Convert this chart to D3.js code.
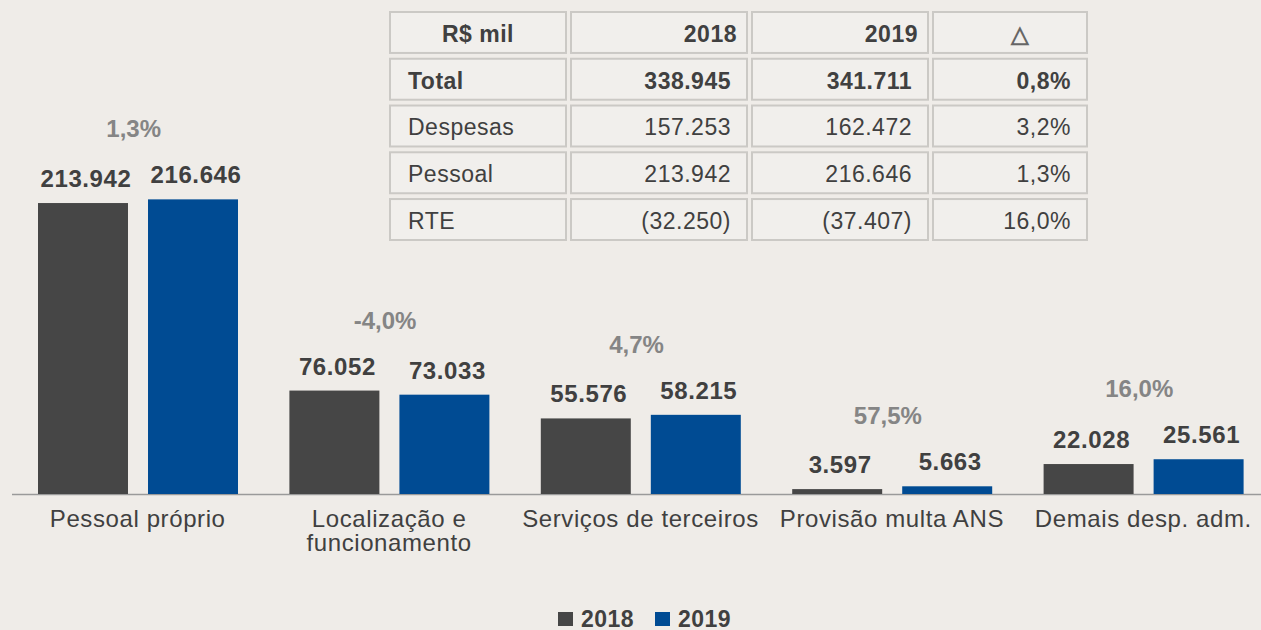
<!DOCTYPE html>
<html>
<head>
<meta charset="utf-8">
<script src="https://cdn.jsdelivr.net/npm/d3@7"></script>
<style>
  html, body { margin: 0; padding: 0; background: #efece8; }
  svg { display: block; font-family: "Liberation Sans", Arial, sans-serif; }
</style>
</head>
<body>
<svg id="chart" width="1261" height="630"></svg>
<script>
// data
var categories = ["Pessoal próprio", "Localização e\nfuncionamento", "Serviços de terceiros", "Provisão multa ANS", "Demais desp. adm."];
var years = ["2018", "2019"];
var values2018 = [213942, 76052, 55576, 3597, 22028];
var values2019 = [216646, 73033, 58215, 5663, 25561];
var changes = ["1,3%", "-4,0%", "4,7%", "57,5%", "16,0%"];
var tableHeader = ["R$ mil", "2018", "2019", "\u25B3"];
var tableRows = [
  ["Total", "338.945", "341.711", "0,8%"],
  ["Despesas", "157.253", "162.472", "3,2%"],
  ["Pessoal", "213.942", "216.646", "1,3%"],
  ["RTE", "(32.250)", "(37.407)", "16,0%"]
];

var colors = { "2018": "#464646", "2019": "#004b93" };
var textDark = "#404040";

var svg = d3.select("#chart");
var W = 1261, H = 630;
var baseline = 494;

var ptBR = d3.formatLocale({ decimal: ",", thousands: ".", grouping: [3], currency: ["R$", ""] });
var fmt = ptBR.format(",d");

var data = categories.map(function (c, i) {
  return { cat: c, change: changes[i], vals: [values2018[i], values2019[i]] };
});

var x0 = d3.scaleBand().domain(categories).range([12, 1269]).padding(0);
var x1 = d3.scaleBand().domain(years).range([26, 226]).paddingInner(0.182).paddingOuter(0);
var y = d3.scaleLinear().domain([0, 220000]).range([baseline, baseline - 299.2]);

// baseline axis
svg.append("line")
  .attr("x1", 12).attr("x2", W)
  .attr("y1", baseline + 0.5).attr("y2", baseline + 0.5)
  .attr("stroke", "#9a9a9a").attr("stroke-width", 1.5);

var groups = svg.selectAll("g.cat").data(data).enter().append("g")
  .attr("class", "cat")
  .attr("transform", function (d) { return "translate(" + x0(d.cat) + ",0)"; });

groups.selectAll("rect").data(function (d) { return d.vals.map(function (v, j) { return { year: years[j], v: v }; }); })
  .enter().append("rect")
  .attr("x", function (d) { return x1(d.year); })
  .attr("width", x1.bandwidth())
  .attr("y", function (d) { return y(d.v); })
  .attr("height", function (d) { return baseline - y(d.v); })
  .attr("fill", function (d) { return colors[d.year]; });

groups.selectAll("text.val").data(function (d) { return d.vals.map(function (v, j) { return { year: years[j], v: v }; }); })
  .enter().append("text")
  .attr("class", "val")
  .attr("x", function (d) { return x1(d.year) + x1.bandwidth() / 2 + 3; })
  .attr("y", function (d) { return y(d.v) - 16; })
  .attr("text-anchor", "middle")
  .attr("font-size", 24).attr("font-weight", "bold")
  .attr("letter-spacing", 0.6)
  .attr("fill", textDark)
  .text(function (d) { return fmt(d.v); });

groups.append("text")
  .attr("x", x0.bandwidth() / 2 - 4)
  .attr("y", function (d) { return y(d3.max(d.vals)) - 62; })
  .attr("text-anchor", "middle")
  .attr("font-size", 24).attr("font-weight", "bold")
  .attr("fill", "#858585")
  .text(function (d) { return d.change; });

groups.append("text")
  .attr("x", x0.bandwidth() / 2)
  .attr("y", 527)
  .attr("text-anchor", "middle")
  .attr("font-size", 24)
  .attr("letter-spacing", 0.6)
  .attr("fill", textDark)
  .selectAll("tspan").data(function (d) { return d.cat.split("\n"); })
  .enter().append("tspan")
  .attr("x", x0.bandwidth() / 2)
  .attr("dy", function (d, i) { return i ? 24 : 0; })
  .text(function (d) { return d; });

// table
var cols = [
  { x: 390, w: 176, align: "start" },
  { x: 571, w: 176, align: "end" },
  { x: 752, w: 176, align: "end" },
  { x: 933, w: 154, align: "end" }
];
var allRows = [tableHeader].concat(tableRows);
var rowY = d3.scaleBand().domain(d3.range(allRows.length)).range([12, 240]).paddingInner(0.124).paddingOuter(0);

var table = svg.append("g");
var trow = table.selectAll("g.row").data(allRows).enter().append("g")
  .attr("transform", function (d, i) { return "translate(0," + rowY(i) + ")"; });

trow.selectAll("rect").data(function (d) { return d; }).enter().append("rect")
  .attr("x", function (d, j) { return cols[j].x; })
  .attr("y", 0)
  .attr("width", function (d, j) { return cols[j].w; })
  .attr("height", rowY.bandwidth())
  .attr("fill", "#f1efec")
  .attr("stroke", "#cbc9c5").attr("stroke-width", 2);

trow.selectAll("text").data(function (d, i) { return d.map(function (t, j) { return { t: t, j: j, r: i }; }); })
  .enter().append("text")
  .attr("x", function (d) {
    var c = cols[d.j];
    if (d.r === 0 && d.j === 0) return c.x + c.w / 2;
    if (d.r === 0 && d.j === 3) return c.x + c.w / 2 + 10;
    if (c.align === "start") return c.x + 18;
    return c.x + c.w - (d.r === 0 ? 10 : 16);
  })
  .attr("y", rowY.bandwidth() - 11)
  .attr("text-anchor", function (d) {
    if (d.r === 0 && (d.j === 0 || d.j === 3)) return "middle";
    return cols[d.j].align;
  })
  .attr("font-size", 23)
  .attr("letter-spacing", 0.5)
  .attr("font-weight", function (d) { return d.r <= 1 ? "bold" : "normal"; })
  .attr("fill", function (d) { return d.r === 0 && d.j === 3 ? "#666" : textDark; })
  .text(function (d) { return d.t; });

// legend
var legend = svg.append("g").attr("transform", "translate(558,0)");
var legX = d3.scaleOrdinal().domain(years).range([0, 97]);
var li = legend.selectAll("g").data(years).enter().append("g")
  .attr("transform", function (d) { return "translate(" + legX(d) + ",0)"; });
li.append("rect").attr("x", 0).attr("y", 612).attr("width", 15).attr("height", 14)
  .attr("fill", function (d) { return colors[d]; });
li.append("text").attr("x", 23).attr("y", 627)
  .attr("font-size", 23).attr("font-weight", "bold").attr("letter-spacing", 0.5)
  .attr("fill", textDark)
  .text(function (d) { return d; });
</script>
</body>
</html>
